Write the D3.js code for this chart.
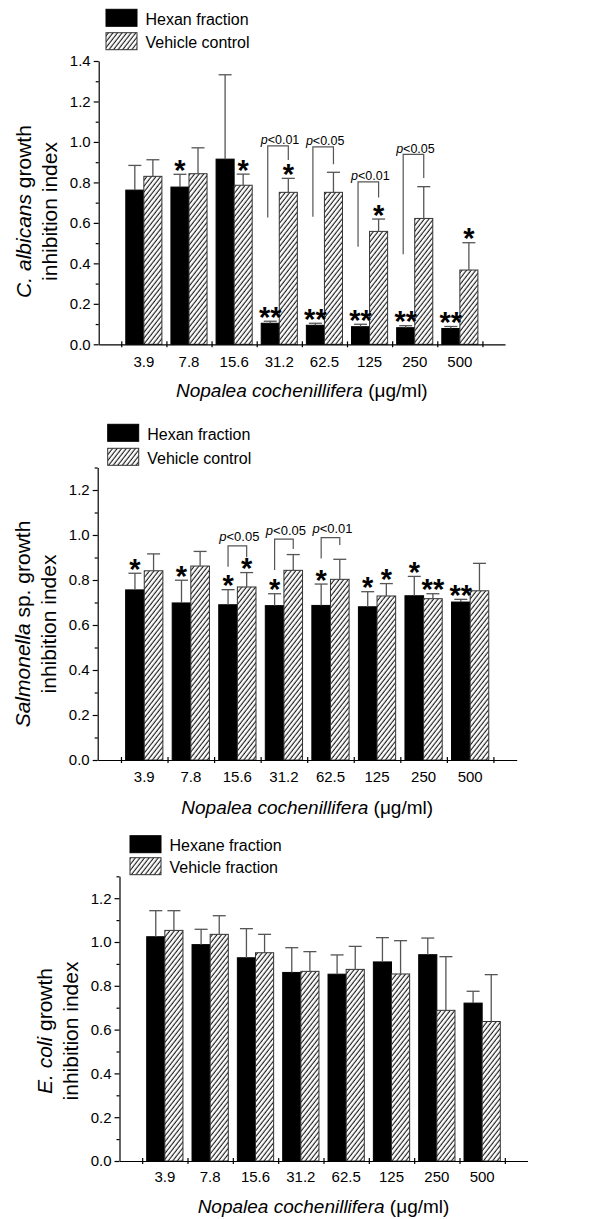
<!DOCTYPE html>
<html><head><meta charset="utf-8">
<script src="https://cdn.jsdelivr.net/npm/d3@7"></script>
<style>
body{margin:0;background:#fff}
svg{display:block}
text{font-family:"Liberation Sans",Arial,Helvetica,sans-serif;fill:#000}
</style>
</head><body><div id="chart"></div>
<script>
// ---------- DATA ----------
const concentrations = ["3.9","7.8","15.6","31.2","62.5","125","250","500"];

// Panel 1: C. albicans
const albicansHexan      = [0.762, 0.777, 0.915, 0.104, 0.094, 0.087, 0.082, 0.078];
const albicansHexanSd    = [0.122, 0.063, 0.417, 0.010, 0.010, 0.012, 0.010, 0.010];
const albicansVehicle    = [0.830, 0.843, 0.786, 0.751, 0.751, 0.558, 0.622, 0.367];
const albicansVehicleSd  = [0.082, 0.128, 0.055, 0.069, 0.099, 0.061, 0.157, 0.135];
const albicansHexanStars   = ["", "*", "", "**", "**", "**", "**", "**"];
const albicansVehicleStars = ["", "", "*", "*", "", "*", "", "*"];
const albicansBrackets = [
  {cat:"31.2", top:0.981, left:0.627, right:0.911, p:"0.01"},
  {cat:"62.5", top:0.976, left:0.630, right:0.890, p:"0.05"},
  {cat:"125",  top:0.803, left:0.482, right:0.726, p:"0.01"},
  {cat:"250",  top:0.939, left:0.445, right:0.822, p:"0.05"}
];
const albicansYTicks = [0, 0.2, 0.4, 0.6, 0.8, 1.0, 1.2, 1.4];
const albicansYMinor = [0.1, 0.3, 0.5, 0.7, 0.9, 1.1, 1.3];

// Panel 2: Salmonella sp.
const salmonellaHexan      = [0.756, 0.698, 0.690, 0.686, 0.687, 0.681, 0.730, 0.702];
const salmonellaHexanSd    = [0.074, 0.101, 0.067, 0.053, 0.095, 0.067, 0.086, 0.012];
const salmonellaVehicle    = [0.841, 0.862, 0.769, 0.843, 0.803, 0.729, 0.717, 0.752];
const salmonellaVehicleSd  = [0.075, 0.065, 0.064, 0.070, 0.089, 0.055, 0.022, 0.122];
const salmonellaHexanStars   = ["*", "*", "*", "*", "*", "*", "*", "**"];
const salmonellaVehicleStars = ["", "", "*", "", "", "*", "**", ""];
const salmonellaBrackets = [
  {cat:"15.6", top:0.952, left:0.859, right:0.901, p:"0.05"},
  {cat:"31.2", top:0.982, left:0.844, right:0.938, p:"0.05"},
  {cat:"62.5", top:0.988, left:0.896, right:0.956, p:"0.01"}
];
const salmonellaYTicks = [0, 0.2, 0.4, 0.6, 0.8, 1.0, 1.2];
const salmonellaYMinor = [0.1, 0.3, 0.5, 0.7, 0.9, 1.1, 1.3];

// Panel 3: E. coli
const coliHexane      = [1.024, 0.988, 0.928, 0.861, 0.853, 0.909, 0.942, 0.721];
const coliHexaneSd    = [0.119, 0.070, 0.133, 0.113, 0.088, 0.111, 0.076, 0.054];
const coliVehicle     = [1.053, 1.035, 0.951, 0.866, 0.875, 0.854, 0.688, 0.637];
const coliVehicleSd   = [0.090, 0.085, 0.084, 0.090, 0.105, 0.152, 0.245, 0.214];
const coliYTicks = [0, 0.2, 0.4, 0.6, 0.8, 1.0, 1.2];
const coliYMinor = [0.1, 0.3, 0.5, 0.7, 0.9, 1.1, 1.3];

// ---------- LAYOUT ----------
const panels = [
  {hex:albicansHexan, hexSd:albicansHexanSd, veh:albicansVehicle, vehSd:albicansVehicleSd,
   hexStars:albicansHexanStars, vehStars:albicansVehicleStars, brackets:albicansBrackets,
   yTicks:albicansYTicks, yMinor:albicansYMinor, yMax:1.4,
   x0:98.7, x1:505, y0:344.3, yTop:61,
   legendX:106, legendY:9.3, legendGap:23.4, legend:["Hexan fraction","Vehicle control"],
   titleItalic:"C. albicans", titleRest:" growth", titleCY:211.5,
   xPad:12, xTitleOff:52.7, pFont:12.5, pGap:1.5, leftShift:-2.5},
  {hex:salmonellaHexan, hexSd:salmonellaHexanSd, veh:salmonellaVehicle, vehSd:salmonellaVehicleSd,
   hexStars:salmonellaHexanStars, vehStars:salmonellaVehicleStars, brackets:salmonellaBrackets,
   yTicks:salmonellaYTicks, yMinor:salmonellaYMinor, yMax:1.3,
   x0:97.7, x1:516.7, y0:760, yTop:467.5,
   legendX:107.7, legendY:424.3, legendGap:24, legend:["Hexan fraction","Vehicle control"],
   titleItalic:"Salmonella", titleRest:" sp. growth", titleCY:624,
   xPad:11.7, xTitleOff:54.3, pFont:13, pGap:4.5, leftShift:0},
  {hex:coliHexane, hexSd:coliHexaneSd, veh:coliVehicle, vehSd:coliVehicleSd,
   hexStars:null, vehStars:null, brackets:[],
   yTicks:coliYTicks, yMinor:coliYMinor, yMax:1.3,
   x0:119.5, x1:527.5, y0:1161, yTop:876.3,
   legendX:130, legendY:835.7, legendGap:22, legend:["Hexane fraction","Vehicle fraction"],
   titleItalic:"E. coli", titleRest:" growth", titleCY:1031,
   xPad:10.7, xTitleOff:52, pFont:13, pGap:3, leftShift:0}
];

const FONT = '"Liberation Sans", Arial, Helvetica, sans-serif';
const svg = d3.select("#chart").append("svg").attr("width",597).attr("height",1219);
const defs = svg.append("defs");
const pat = defs.append("pattern").attr("id","hatch").attr("patternUnits","userSpaceOnUse")
  .attr("width",3.6).attr("height",10).attr("patternTransform","rotate(38)");
pat.append("rect").attr("width",3.6).attr("height",10).attr("fill","#fff");
pat.append("line").attr("x1",1.2).attr("x2",1.2).attr("y1",-1).attr("y2",11)
  .attr("stroke","#000").attr("stroke-width",1.0);

function drawPanel(p){
  const g = svg.append("g");
  const xLin = d3.scaleLinear().domain([0,9]).range([p.x0,p.x1]);
  const xBand = d3.scaleBand().domain(concentrations).range([xLin(0.5),xLin(8.5)])
    .paddingInner(0.2).paddingOuter(0.1);
  const xSub = d3.scaleBand().domain(["hex","veh"]).range([0,xBand.bandwidth()]);
  const y = d3.scaleLinear().domain([0,p.yMax]).range([p.y0,p.yTop]);

  const rows = concentrations.flatMap((c,i)=>[
    {c, key:"hex", v:p.hex[i], sd:p.hexSd[i], star:p.hexStars?p.hexStars[i]:""},
    {c, key:"veh", v:p.veh[i], sd:p.vehSd[i], star:p.vehStars?p.vehStars[i]:""}
  ]);
  const cx = d => xBand(d.c)+xSub(d.key)+xSub.bandwidth()/2;

  g.selectAll("rect.bar").data(rows).join("rect").attr("class","bar")
    .attr("x",d=>xBand(d.c)+xSub(d.key)).attr("width",xSub.bandwidth())
    .attr("y",d=>y(d.v)).attr("height",d=>y(0)-y(d.v))
    .attr("fill",d=>d.key==="hex"?"#000":"url(#hatch)")
    .attr("stroke",d=>d.key==="hex"?"#000":"#333").attr("stroke-width",1);

  g.selectAll("line.err").data(rows).join("line").attr("class","err")
    .attr("x1",cx).attr("x2",cx).attr("y1",d=>y(d.v)).attr("y2",d=>y(d.v+d.sd))
    .attr("stroke","#555").attr("stroke-width",1.3);
  g.selectAll("line.cap").data(rows).join("line").attr("class","cap")
    .attr("x1",d=>cx(d)-6.5).attr("x2",d=>cx(d)+6.5)
    .attr("y1",d=>y(d.v+d.sd)).attr("y2",d=>y(d.v+d.sd))
    .attr("stroke","#555").attr("stroke-width",1.3);

  // significance stars
  g.selectAll("text.star").data(rows.filter(d=>d.star)).join("text").attr("class","star")
    .attr("x",cx).attr("y",d=>y(d.v+d.sd)+5.5)
    .attr("text-anchor","middle").attr("font-size",29).attr("font-weight","bold")
    .text(d=>d.star);

  // brackets
  p.brackets.forEach(b=>{
    const xl = xBand(b.cat)+xSub("hex")+xSub.bandwidth()/2 + p.leftShift;
    const xr = xBand(b.cat)+xSub("veh")+xSub.bandwidth()/2;
    g.append("path").attr("d",`M${xl},${y(b.left)}V${y(b.top)}H${xr}V${y(b.right)}`)
      .attr("fill","none").attr("stroke","#555").attr("stroke-width",1.2);
    const t = g.append("text").attr("x",(xl+xr)/2+2).attr("y",y(b.top)-p.pGap)
      .attr("text-anchor","middle").attr("font-size",p.pFont);
    t.append("tspan").attr("font-style","italic").text("p");
    t.append("tspan").text("<"+b.p);
  });

  // y axis
  const yAxis = d3.axisLeft(y).tickValues(p.yTicks).tickFormat(d3.format(".1f"))
    .tickSize(5).tickSizeOuter(0).tickPadding(3);
  const gy = g.append("g").attr("transform",`translate(${p.x0},0)`).call(yAxis)
    .attr("font-size",15).attr("font-family",FONT);
  gy.selectAll("path,line").attr("stroke","#000").attr("stroke-width",1.2);
  const gym = g.append("g").attr("transform",`translate(${p.x0},0)`)
    .call(d3.axisLeft(y).tickValues(p.yMinor).tickSize(3).tickFormat(""));
  gym.select(".domain").remove();
  gym.selectAll("line").attr("stroke","#000").attr("stroke-width",1.2);

  // x axis
  const gx = g.append("g").attr("transform",`translate(0,${p.y0})`)
    .call(d3.axisBottom(xLin).tickValues(d3.range(0.5,9,1)).tickSize(3).tickSizeOuter(0).tickFormat(""));
  gx.selectAll(".tick line").attr("y1",-3);
  gx.selectAll("path,line").attr("stroke","#000").attr("stroke-width",1.2);
  const gxl = g.append("g").attr("transform",`translate(0,${p.y0})`)
    .call(d3.axisBottom(xBand).tickSize(0).tickPadding(p.xPad))
    .attr("font-size",15).attr("font-family",FONT);
  gxl.select(".domain").remove();

  // x title
  const xt = g.append("text").attr("x",(p.x0+p.x1)/2).attr("y",p.y0+p.xTitleOff)
    .attr("text-anchor","middle").attr("font-size",19);
  xt.append("tspan").attr("font-style","italic").text("Nopalea cochenillifera");
  xt.append("tspan").text(" (μg/ml)");

  // y title
  const yt = g.append("text").attr("transform",`translate(${p.x0-67.5},${p.titleCY}) rotate(-90)`)
    .attr("text-anchor","middle").attr("font-size",21);
  yt.append("tspan").attr("font-style","italic").text(p.titleItalic);
  yt.append("tspan").text(p.titleRest);
  g.append("text").attr("transform",`translate(${p.x0-41.5},${p.titleCY}) rotate(-90)`)
    .attr("text-anchor","middle").attr("font-size",21).text("inhibition index");

  // legend
  p.legend.forEach((name,i)=>{
    const ly = p.legendY + i*p.legendGap;
    g.append("rect").attr("x",p.legendX).attr("y",ly).attr("width",31).attr("height",17)
      .attr("fill",i===0?"#000":"url(#hatch)").attr("stroke",i===0?"#000":"#333").attr("stroke-width",1);
    g.append("text").attr("x",p.legendX+39.5).attr("y",ly+15.5).attr("font-size",16).text(name);
  });
}
panels.forEach(drawPanel);
</script>
</body></html>
